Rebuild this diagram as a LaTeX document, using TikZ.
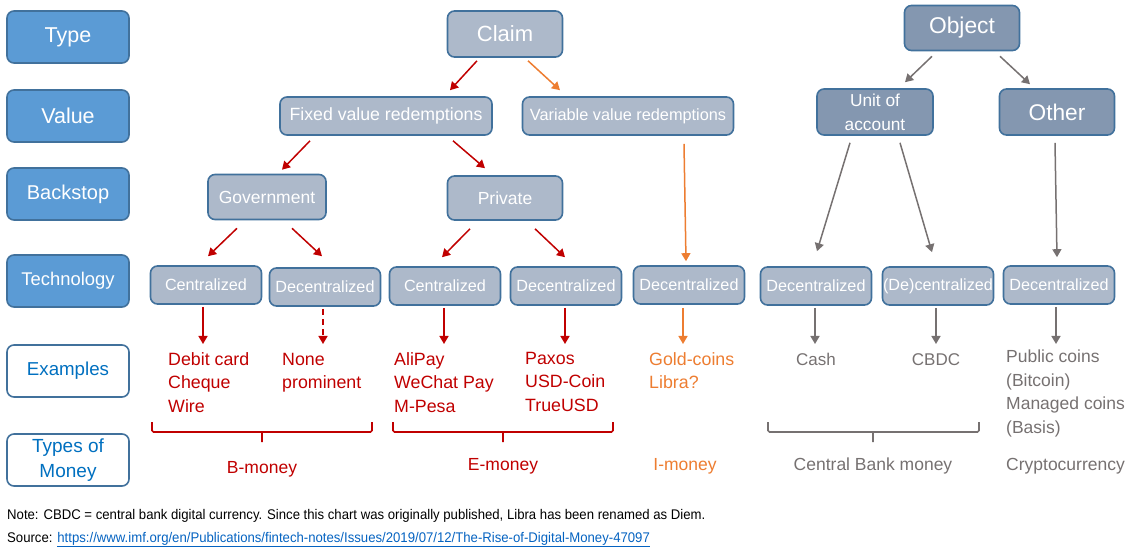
\documentclass[tikz,border=0pt]{standalone}
\usepackage{fontspec}
\usepackage{graphicx}
\setmainfont{Liberation Sans}
\usetikzlibrary{arrows.meta}
\definecolor{catblue}{HTML}{5B9BD5}
\definecolor{edgeblue}{HTML}{41719C}
\definecolor{claimgray}{HTML}{ADB9CA}
\definecolor{objgray}{HTML}{8497B0}
\definecolor{txtblue}{HTML}{0070C0}
\definecolor{darkred}{HTML}{C00000}
\definecolor{orangeline}{HTML}{ED7D31}
\definecolor{greyline}{HTML}{767171}
\definecolor{linkblue}{HTML}{0563C1}
\newcommand{\fsz}[1]{\fontsize{#1}{24}\selectfont}
\tikzset{
  box/.style={draw=edgeblue, line width=1.6pt, rounded corners=7pt, text=white, inner sep=0pt, align=center},
  catbox/.style={box, fill=catblue, minimum width=122pt, minimum height=52pt},
  catwhite/.style={box, fill=white, text=txtblue, minimum width=122pt, minimum height=52pt},
  claimbox/.style={box, fill=claimgray},
  objbox/.style={box, fill=objgray},
  techbox/.style={claimbox, minimum width=111pt, minimum height=38pt, font=\fsz{16.2}},
  redarrow/.style={darkred, line width=1.5pt, -{Triangle[length=8pt,width=9pt]}},
  orangearrow/.style={redarrow, orangeline},
  greyarrow/.style={redarrow, greyline},
  extext/.style={inner sep=0pt, align=left, anchor=north west},
  brace/.style={line width=1.6pt, rounded corners=1.5pt}
}
\begin{document}
\begin{tikzpicture}[x=1pt,y=1pt]
   \useasboundingbox (0,0) rectangle (1133,-553);

   % row titles
   \node[catbox, font=\fsz{21.5}] (ttype) at (68,-37) {Type};
   \node[catbox, font=\fsz{21.5}] (tvalue) at (68,-116) {Value};
   \node[catbox, font=\fsz{20}] (tbackstop) at (68,-194) {Backstop};
   \node[catbox, font=\fsz{18.4}] (ttech) at (68,-281) {Technology};
   \node[catwhite, font=\fsz{18.7}] (texamples) at (68,-371) {Examples};
   \node[catwhite, font=\fontsize{19}{25}\selectfont] (tmoney) at (68,-460) {Types of\\Money};

   % claim side
   \node[claimbox, minimum width=115pt, minimum height=46pt, font=\fsz{22}] (claim) at (505,-34) {Claim};
   \node[claimbox, minimum width=212pt, minimum height=38pt, font=\fsz{17.7}] (fixed) at (386,-116) {Fixed value redemptions};
   \node[claimbox, minimum width=211pt, minimum height=38pt, font=\fsz{16.3}] (variable) at (628,-116) {Variable value redemptions};
   \node[claimbox, minimum width=118pt, minimum height=45pt, font=\fsz{17.5}] (gov) at (267,-197) {Government};
   \node[claimbox, minimum width=115pt, minimum height=44pt, font=\fsz{17.5}] (priv) at (505,-198) {Private};

   % object side
   \node[objbox, minimum width=115pt, minimum height=45pt, font=\fsz{22.8}] (object) at (962,-28) {Object};
   \node[objbox, minimum width=116pt, minimum height=46pt, font=\fsz{17.3}] (unit) at (875,-112) {Unit of\\account};
   \node[objbox, minimum width=115pt, minimum height=46pt, font=\fsz{22.7}] (other) at (1057,-112) {Other};

   % technology
   \node[techbox] (cen1) at (206,-285) {Centralized};
   \node[techbox] (dec1) at (325,-287) {Decentralized};
   \node[techbox] (cen2) at (445,-286) {Centralized};
   \node[techbox] (dec2) at (566,-286) {Decentralized};
   \node[techbox] (dec3) at (689,-285) {Decentralized};
   \node[techbox] (dec4) at (816,-286) {Decentralized};
   \node[techbox] (decen) at (938,-286) {(De)centralized};
   \node[techbox] (dec5) at (1059,-285) {Decentralized};

   % examples
   \node[extext, darkred, font=\fontsize{17.8}{23.5}\selectfont] (ex1) at (168,-352) {Debit card\\Cheque\\Wire};
   \node[extext, darkred, font=\fontsize{17.8}{23.5}\selectfont] (ex2) at (282,-353) {None\\prominent};
   \node[extext, darkred, font=\fontsize{17.8}{23.5}\selectfont] (ex3) at (394,-352) {AliPay\\WeChat Pay\\M-Pesa};
   \node[extext, darkred, font=\fontsize{17.8}{23.5}\selectfont] (ex4) at (525,-352) {Paxos\\USD-Coin\\TrueUSD};
   \node[extext, orangeline, font=\fontsize{17.8}{23.5}\selectfont] (ex5) at (649,-352) {Gold-coins\\Libra?};
   \node[inner sep=0pt, anchor=north, greyline, font=\fsz{17}] (ex6) at (816,-353) {Cash};
   \node[inner sep=0pt, anchor=north, greyline, font=\fsz{17}] (ex7) at (936,-353) {CBDC};
   \node[extext, greyline, font=\fontsize{17.5}{23.5}\selectfont] (ex8) at (1006,-350) {Public coins\\(Bitcoin)\\Managed coins\\(Basis)};

   % braces
   \draw[brace, darkred] (152,-422) -- (152,-432) -- (372,-432) -- (372,-422) (262,-432) -- (262,-442);
   \draw[brace, darkred] (393,-422) -- (393,-432) -- (613,-432) -- (613,-422) (503,-432) -- (503,-442);
   \draw[brace, greyline] (768,-422) -- (768,-432) -- (979,-432) -- (979,-422) (873,-432) -- (873,-442);

   % kinds of money
   \node[anchor=base, darkred, font=\fsz{17.5}] (bmoney) at (262,-473) {B-money};
   \node[anchor=base, darkred, font=\fsz{17.5}] (emoney) at (503,-470) {E-money};
   \node[anchor=base, orangeline, font=\fsz{17.5}] (imoney) at (685,-470) {I-money};
   \node[anchor=base, greyline, font=\fsz{17.5}] (cbmoney) at (873,-470) {Central Bank money};
   \node[anchor=base west, inner sep=0pt, greyline, font=\fsz{17.5}] (crypto) at (1006,-470) {Cryptocurrency};

   % notes
   \node[anchor=base west, inner sep=0pt, font=\fsz{14}] (note) at (7,-519) {\scalebox{0.94}[1]{Note: CBDC = central bank digital currency. Since this chart was originally published, Libra has been renamed as Diem.}};
   \node[anchor=base west, inner sep=0pt, font=\fsz{14}] (source) at (7,-542) {\scalebox{0.94}[1]{Source: \textcolor{linkblue}{\underline{https://www.imf.org/en/Publications/fintech-notes/Issues/2019/07/12/The-Rise-of-Digital-Money-47097}}}};

   % arrows
   \draw[redarrow] ([xshift=-28pt,yshift=-3pt]claim.south) -- ([xshift=64pt,yshift=6pt]fixed.north);
   \draw[orangearrow] ([xshift=23pt,yshift=-3pt]claim.south) -- ([xshift=-68pt,yshift=6pt]variable.north);
   \draw[redarrow] ([xshift=-76pt,yshift=-5pt]fixed.south) -- ([xshift=15pt,yshift=4pt]gov.north);
   \draw[redarrow] ([xshift=67pt,yshift=-5pt]fixed.south) -- ([xshift=-20pt,yshift=7pt]priv.north);
   \draw[orangearrow] ([xshift=56pt,yshift=-8pt]variable.south) -- ([xshift=-3pt,yshift=4pt]dec3.north);
   \draw[greyarrow] ([xshift=-30pt,yshift=-5pt]object.south) -- ([xshift=30pt,yshift=6pt]unit.north);
   \draw[greyarrow] ([xshift=38pt,yshift=-5pt]object.south) -- ([xshift=-27pt,yshift=4pt]other.north);
   \draw[greyarrow] ([xshift=-25pt,yshift=-7pt]unit.south) -- ([xshift=1pt,yshift=15pt]dec4.north);
   \draw[greyarrow] ([xshift=25pt,yshift=-7pt]unit.south) -- ([xshift=-6pt,yshift=14pt]decen.north);
   \draw[greyarrow] ([xshift=-2pt,yshift=-7pt]other.south) -- ([xshift=-2pt,yshift=8pt]dec5.north);
   \draw[redarrow] ([xshift=-30pt,yshift=-8pt]gov.south) -- ([xshift=2pt,yshift=9pt]cen1.north);
   \draw[redarrow] ([xshift=25pt,yshift=-8pt]gov.south) -- ([xshift=-3pt,yshift=11pt]dec1.north);
   \draw[redarrow] ([xshift=-35pt,yshift=-8pt]priv.south) -- ([xshift=-3pt,yshift=9pt]cen2.north);
   \draw[redarrow] ([xshift=30pt,yshift=-8pt]priv.south) -- ([xshift=-1pt,yshift=9pt]dec2.north);

   \draw[redarrow, shorten <=2pt, shorten >=8pt] ([xshift=-3pt]cen1.south) -- ([xshift=-3pt]cen1.south |- ex1.north);
   \draw[redarrow, dashed, dash pattern=on 6pt off 4pt, shorten <=2pt, shorten >=9pt] ([xshift=-2pt]dec1.south) -- ([xshift=-2pt]dec1.south |- ex2.north);
   \draw[redarrow, shorten <=2pt, shorten >=8pt] ([xshift=-1pt]cen2.south) -- ([xshift=-1pt]cen2.south |- ex3.north);
   \draw[redarrow, shorten <=2pt, shorten >=8pt] ([xshift=-1pt]dec2.south) -- ([xshift=-1pt]dec2.south |- ex4.north);
   \draw[orangearrow, shorten <=3pt, shorten >=8pt] ([xshift=-6pt]dec3.south) -- ([xshift=-6pt]dec3.south |- ex5.north);
   \draw[greyarrow, shorten <=2pt, shorten >=9pt] ([xshift=-1pt]dec4.south) -- ([xshift=-1pt]dec4.south |- ex6.north);
   \draw[greyarrow, shorten <=2pt, shorten >=9pt] ([xshift=-2pt]decen.south) -- ([xshift=-2pt]decen.south |- ex7.north);
   \draw[greyarrow, shorten <=2pt, shorten >=6pt] ([xshift=-3pt]dec5.south) -- ([xshift=-3pt]dec5.south |- ex8.north);
\end{tikzpicture}
\end{document}
